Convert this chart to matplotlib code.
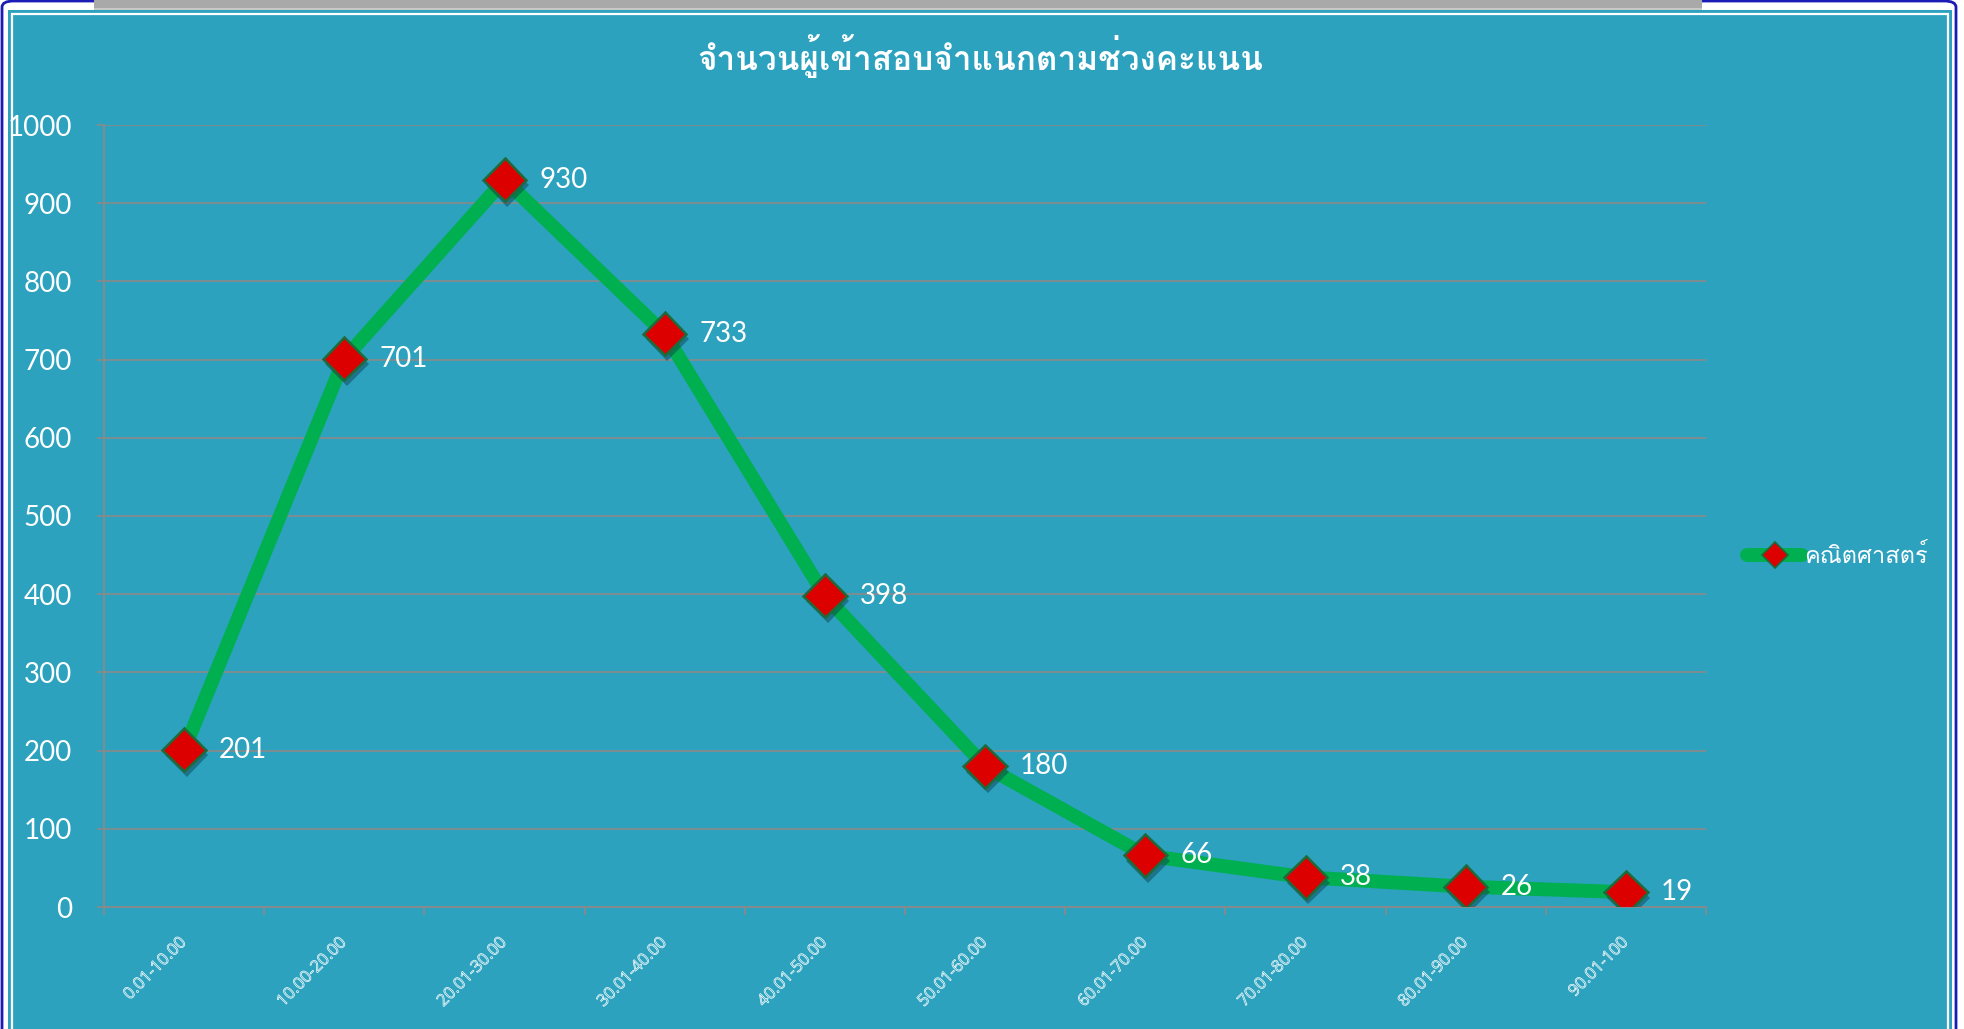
import matplotlib
matplotlib.use("Agg")
import matplotlib.pyplot as plt
import matplotlib.patheffects as pe
from matplotlib.lines import Line2D
from matplotlib.patches import Rectangle, FancyBboxPatch

# data
categories = ["0.01-10.00", "10.00-20.00", "20.01-30.00", "30.01-40.00", "40.01-50.00",
              "50.01-60.00", "60.01-70.00", "70.01-80.00", "80.01-90.00", "90.01-100"]
counts = [201, 701, 930, 733, 398, 180, 66, 38, 26, 19]
y_ticks = [0, 100, 200, 300, 400, 500, 600, 700, 800, 900, 1000]
series_name = "คณิตศาสตร์"
title = "จำนวนผู้เข้าสอบจำแนกตามช่วงคะแนน"

W, H = 1964, 1029
bg = "#2CA2BF"
green = "#00B050"
grid_grey = "#8A8A8A"
thai = ["Loma", "Noto Sans Thai", "DejaVu Sans"]
num_font = ["Lato", "DejaVu Sans"]


def fx(px):
    return px / W


def fy(py):
    return 1 - py / H


fig = plt.figure(figsize=(W / 100, H / 100), dpi=100, facecolor="white")

# outer frame bits (window border, grey bar, teal panel)
fig.add_artist(FancyBboxPatch((fx(2), fy(1100)), fx(1954), fy(1) - fy(1100),
                              boxstyle="round,pad=0,rounding_size=0.006",
                              transform=fig.transFigure, facecolor="white",
                              edgecolor="#1B1BB5", linewidth=2))
fig.add_artist(Rectangle((fx(94), fy(12)), fx(1608), fy(0) - fy(12), transform=fig.transFigure,
                         facecolor="#A9A9A9", edgecolor="none"))
fig.add_artist(Rectangle((fx(94), fy(12)), fx(1608), fy(8) - fy(12), transform=fig.transFigure,
                         facecolor="#C8C8C8", edgecolor="none"))
fig.add_artist(Rectangle((fx(8), fy(1040)), fx(1944), fy(10) - fy(1040), transform=fig.transFigure,
                         facecolor=bg, edgecolor="none"))
fig.add_artist(Rectangle((fx(12), fy(1040)), fx(1936), fy(14) - fy(1040), transform=fig.transFigure,
                         facecolor="none", edgecolor="white", linewidth=1.6))

ax = fig.add_axes([fx(104), fy(907), fx(1706) - fx(104), fy(125) - fy(907)])
ax.set_facecolor("none")
ax.set_zorder(5)

x = list(range(len(categories)))
ax.plot(x, counts, color=green, linewidth=10, solid_joinstyle="round",
        solid_capstyle="round", zorder=3)
ax.plot(x, counts, linestyle="none", marker="D", markersize=22,
        markerfacecolor="#DD0000", markeredgecolor="#1E6B3A", markeredgewidth=1.8, zorder=4,
        path_effects=[pe.SimplePatchShadow(offset=(2, -4), shadow_rgbFace="#0A3A4A", alpha=0.45),
                      pe.Normal()])

for xi, v in zip(x, counts):
    ax.annotate(str(v), (xi, v), xytext=(25, 0), textcoords="offset points",
                ha="left", va="center", color="white", fontsize=20, family=num_font, zorder=5)

ax.set_xlim(-0.5, len(categories) - 0.5)
ax.set_ylim(0, 1000)
ax.set_yticks(y_ticks)
ax.set_yticklabels([str(t) for t in y_ticks], family=num_font, fontsize=20, color="white")
ax.grid(axis="y", color=grid_grey, linewidth=1.2)
ax.set_axisbelow(True)

# hollow (outlined) category labels
ax.set_xticks(x)
ax.set_xticklabels(categories, rotation=45, ha="right", va="center", rotation_mode="anchor",
                   fontsize=12, color=bg, family=["Open Sans", "DejaVu Sans"],
                   path_effects=[pe.Stroke(linewidth=0.5, foreground="white")])
ax.set_xticks([i - 0.5 for i in range(len(categories) + 1)], minor=True)
ax.tick_params(axis="x", which="major", length=0, pad=24)
ax.tick_params(axis="x", which="minor", length=6, width=1.2, color=grid_grey)
ax.tick_params(axis="y", length=5, width=1.2, color=grid_grey, pad=18)

for side in ["top", "right"]:
    ax.spines[side].set_visible(False)
for side in ["left", "bottom"]:
    ax.spines[side].set_color(grid_grey)
    ax.spines[side].set_linewidth(1.3)

fig.text(fx(980), fy(56), title, ha="center", va="center", color="white",
         fontsize=24, fontweight="bold", family=thai)

handle = Line2D([], [], color=green, linewidth=10, solid_capstyle="round", marker="D",
                markersize=13, markerfacecolor="#DD0000", markeredgecolor="#1E6B3A",
                markeredgewidth=1.2)
fig.legend([handle], [series_name], loc="center left", bbox_to_anchor=(fx(1738), fy(556)),
           frameon=False, handlelength=2.3, handletextpad=0.1, borderaxespad=0,
           prop={"family": thai, "size": 17}, labelcolor="white")

fig.savefig("out.png", dpi=100, facecolor="white")
